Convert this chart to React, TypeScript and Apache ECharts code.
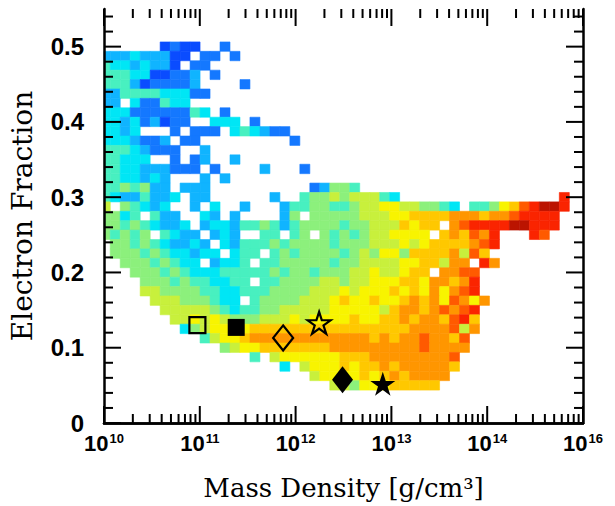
import React, { useEffect, useRef } from 'react';
import * as echarts from 'echarts';

// ---- axes ----
const rhoMin = 1e10;
const rhoMax = 1e15;
const xTickExponents = ['10', '11', '12', '13', '14', '16'];
const yMin = 0;
const yMax = 0.55;
const yTickValues = [0, 0.1, 0.2, 0.3, 0.4, 0.5];
const yTickLabels = ['0', '0.1', '0.2', '0.3', '0.4', '0.5'];
const xMinorMultipliers = [2, 3, 4, 5, 6, 7, 8, 9];
const xDecades = [10, 11, 12, 13, 14];
const yMinorValues = [0.02, 0.04, 0.06, 0.08, 0.12, 0.14, 0.16, 0.18, 0.22, 0.24, 0.26, 0.28, 0.32, 0.34, 0.36, 0.38, 0.42, 0.44, 0.46, 0.48, 0.52, 0.54];

// ---- 2D histogram bins (log10 density x electron fraction) ----
const logRhoFirstEdge = 9.961;
const logRhoBinWidth = 0.10417;
const yeTopBinCenter = 0.5;
const yeBinHeight = 0.0125;

// one string per Ye row (top = 0.5, step down 0.0125); one char per density bin
// '.' = empty, 0..9,a,b,c = colour level
const cellRows = [
  '......0100' + '..1.......' + '..........' + '..........' + '........',
  '222322200.' + '11.1......' + '..........' + '..........' + '........',
  '43323220.1' + '1.........' + '..........' + '..........' + '........',
  '4443300112' + '.1........' + '..........' + '..........' + '........',
  '4442011112' + '....1.....' + '..........' + '..........' + '........',
  '2244443331' + '1.........' + '..........' + '..........' + '........',
  '22.311433.' + '..........' + '..........' + '..........' + '........',
  '3331111114' + '3.1.......' + '..........' + '..........' + '........',
  '332312011.' + '.333.1....' + '..........' + '..........' + '........',
  '3323...1.1' + '11.343211.' + '..........' + '..........' + '........',
  '3332112.11' + '.........1' + '..........' + '..........' + '........',
  '44432111..' + '2.........' + '..........' + '..........' + '........',
  '44333..1.1' + '2..2......' + '..........' + '..........' + '........',
  '4433222111' + '.1....2...' + '1.........' + '..........' + '........',
  '4433232...' + '2.2.......' + '..........' + '..........' + '........',
  '4454522.22' + '2.........' + '.12554....' + '..........' + '........',
  '43224223.2' + '2......2..' + '4556566643' + '..........' + '......b.',
  '6.54323..2' + '.3..2...24' + '4554456677' + '665543.445' + '78abccb.',
  '5534.422..' + '32.2....25' + '.555556667' + '7888899989' + '9abbbb..',
  '554543223.' + '2332445424' + '5555455666' + '8788.9abbb' + 'bccbbb..',
  '54545.4322' + '.232..44.4' + '5.54545667' + '777.898a9b' + '...ba...',
  '.554543223' + '2.32444545' + '5554555666' + '76788889ab' + '........',
  '.555454332' + '33.344.454' + '5555456577' + '5888896a8.' + '........',
  '..55545433' + '.2334.4455' + '5554556666' + '7788699.b9' + '........',
  '...5554543' + '3344444545' + '5455566766' + '788.99aa..' + '........',
  '....555454' + '43344.4455' + '5566566777' + '8879989b..' + '........',
  '....665555' + '4433444555' + '5666767778' + '787979ab..' + '........',
  '.....66655' + '5433.45555' + '6667877877' + '89897a979.' + '........',
  '......6666' + '6543445566' + '6667777768' + '9989a9ab..' + '........',
  '.......667' + '6765556667' + '6777787788' + '98998ab8..' + '........',
  '........35' + '6777788888' + '8888888888' + '89999a69..' + '........',
  '..........' + '4677899999' + '9999999898' + '99a998a...' + '........',
  '..........' + '..56778888' + '8889999999' + '99a9999...' + '........',
  '..........' + '.....4.677' + '7777888999' + '99999a....' + '........',
  '..........' + '........3.' + '6777878898' + '999998....' + '........',
  '..........' + '..........' + '.677778789' + '89999.....' + '........',
  '..........' + '..........' + '...6657778' + '8888......' + '........',
];

// ---- markers ----
const markerRho = [9.44e10, 2.4e11, 7.41e11, 1.76e12, 3.09e12, 8.13e12];
const markerYe = [0.13, 0.127, 0.113, 0.133, 0.0575, 0.0522];
const markerShape = ['square', 'square', 'diamond', 'star', 'diamond', 'star'];
const markerFilled = [false, true, false, false, true, true];

const palette = [
  '#0a4cff', '#1478ff', '#10b4ff', '#00e6f5', '#48f0c0', '#8cf07c', '#c8f03c',
  '#f8f400', '#ffc800', '#ff9600', '#ff5a00', '#fa2400', '#bb1400',
];

const STAR = 'path://M50 0 L61.23 34.55 L97.55 34.55 L68.17 55.9 L79.39 90.45 L50 69.1 L20.61 90.45 L31.83 55.9 L2.45 34.55 L38.77 34.55 Z';

function buildCells() {
  const cells: number[][] = [];
  cellRows.forEach((row, r) => {
    const yc = yeTopBinCenter - r * yeBinHeight;
    for (let k = 0; k < row.length; k++) {
      const ch = row[k];
      if (ch === '.') continue;
      const v = parseInt(ch, 16);
      const lo = logRhoFirstEdge + k * logRhoBinWidth;
      cells.push([Math.pow(10, lo), Math.pow(10, lo + logRhoBinWidth), yc - yeBinHeight / 2, yc + yeBinHeight / 2, v]);
    }
  });
  return cells;
}

function buildTicks() {
  const t: number[][] = [];
  xDecades.concat([15]).forEach((d) => t.push([Math.pow(10, d), 0.2, 0]));
  xDecades.forEach((d) => xMinorMultipliers.forEach((m) => t.push([m * Math.pow(10, d), 0.2, 1])));
  yTickValues.forEach((v) => t.push([1e12, v, 2]));
  yMinorValues.forEach((v) => t.push([1e12, v, 3]));
  return t;
}

export default function App() {
  const ref = useRef<HTMLDivElement>(null);
  useEffect(() => {
    if (!ref.current) return;
    const chart = echarts.init(ref.current, undefined, { renderer: 'svg' });
    const numFont = 'Liberation Sans';
    const nameFont = 'DejaVu Serif';
    const frame = { show: true, lineStyle: { color: '#000', width: 2.5 } };

    const markerData = markerRho.map((rho, i) => {
      const shape = markerShape[i];
      const filled = markerFilled[i];
      let symbol = 'rect';
      let size: number[] = [16, 16];
      if (shape === 'diamond') { symbol = 'diamond'; size = filled ? [21, 27] : [20, 25]; }
      if (shape === 'star') { symbol = STAR; size = filled ? [25, 24] : [23, 22]; }
      if (shape === 'square' && filled) size = [17, 17];
      return {
        value: [rho, markerYe[i]],
        symbol,
        symbolSize: size,
        itemStyle: filled
          ? { color: '#000', borderColor: '#000', borderWidth: 0, opacity: 1 }
          : { color: 'rgba(0,0,0,0)', borderColor: '#000', borderWidth: 2.2, opacity: 1 },
      };
    });

    chart.setOption({
      animation: false,
      backgroundColor: '#fff',
      grid: { left: 103, right: 32, top: 9, bottom: 78, containLabel: false },
      visualMap: {
        show: false, type: 'continuous', min: 0, max: 12, dimension: 4, seriesIndex: 0,
        inRange: { color: palette },
      },
      xAxis: [
        {
          type: 'log', logBase: 10, min: rhoMin, max: rhoMax, position: 'bottom', z: 10,
          axisLine: frame, axisTick: { show: false }, splitLine: { show: false },
          axisLabel: {
            margin: 8,
            formatter: (v: number) => {
              const i = Math.round(Math.log10(v)) - 10;
              const e = xTickExponents[i];
              return e === undefined ? '' : '{b|10}{e|' + e + '}';
            },
            rich: {
              b: { fontFamily: numFont, fontWeight: 'bold', fontSize: 22, color: '#000', lineHeight: 24 },
              e: { fontFamily: numFont, fontWeight: 'bold', fontSize: 13, color: '#000', lineHeight: 13, verticalAlign: 'top', padding: [1, 0, 0, 1] },
            },
          },
          name: 'Mass Density [g/cm³]', nameLocation: 'middle', nameGap: 52,
          nameTextStyle: { fontFamily: nameFont, fontSize: 26, color: '#000' },
        },
        {
          type: 'log', logBase: 10, min: rhoMin, max: rhoMax, position: 'top', z: 10,
          axisLine: frame, axisTick: { show: false }, splitLine: { show: false }, axisLabel: { show: false },
        },
      ],
      yAxis: [
        {
          type: 'value', min: yMin, max: yMax, interval: 0.1, position: 'left', z: 10,
          axisLine: frame, axisTick: { show: false }, splitLine: { show: false },
          axisLabel: {
            margin: 20, fontFamily: numFont, fontWeight: 'bold', fontSize: 24, color: '#000',
            formatter: (v: number) => {
              const i = yTickValues.findIndex((t) => Math.abs(t - v) < 1e-6);
              return i >= 0 ? yTickLabels[i] : '';
            },
          },
          name: 'Electron Fraction', nameLocation: 'middle', nameGap: 68, nameRotate: 90,
          nameTextStyle: { fontFamily: nameFont, fontSize: 28, color: '#000' },
        },
        {
          type: 'value', min: yMin, max: yMax, interval: 0.1, position: 'right', z: 10,
          axisLine: frame, axisTick: { show: false }, splitLine: { show: false }, axisLabel: { show: false },
        },
      ],
      series: [
        {
          type: 'custom', name: 'histogram', z: 2,
          encode: { x: [0, 1], y: [2, 3] },
          data: buildCells(),
          renderItem: (params: any, api: any) => {
            const p0 = api.coord([api.value(0), api.value(3)]);
            const p1 = api.coord([api.value(1), api.value(2)]);
            const cs = params.coordSys;
            const rect = echarts.graphic.clipRectByRect(
              { x: p0[0], y: p0[1], width: p1[0] - p0[0], height: p1[1] - p0[1] },
              { x: cs.x, y: cs.y, width: cs.width, height: cs.height }
            );
            if (!rect) return null;
            const c = api.visual('color');
            return { type: 'rect', shape: rect, style: { fill: c, stroke: c, lineWidth: 0.6 } };
          },
        },
        {
          type: 'scatter', name: 'models', z: 4,
          itemStyle: { opacity: 1 },
          data: markerData,
        },
        {
          type: 'custom', name: 'ticks', z: 8, silent: true,
          encode: { x: 0, y: 1 },
          data: buildTicks(),
          renderItem: (params: any, api: any) => {
            const cs = params.coordSys;
            const kind = api.value(2);
            const st = { stroke: '#000', lineWidth: 2 };
            if (kind < 2) {
              const x = api.coord([api.value(0), 0.2])[0];
              const len = kind === 0 ? 17 : 9;
              const b = cs.y + cs.height;
              return {
                type: 'group',
                children: [
                  { type: 'line', shape: { x1: x, y1: b, x2: x, y2: b - len }, style: st },
                  { type: 'line', shape: { x1: x, y1: cs.y, x2: x, y2: cs.y + len }, style: st },
                ],
              };
            }
            const y = api.coord([1e12, api.value(1)])[1];
            const len = kind === 2 ? 17 : 9;
            const r = cs.x + cs.width;
            return {
              type: 'group',
              children: [
                { type: 'line', shape: { x1: cs.x, y1: y, x2: cs.x + len, y2: y }, style: st },
                { type: 'line', shape: { x1: r, y1: y, x2: r - len, y2: y }, style: st },
              ],
            };
          },
        },
      ],
    });
    return () => chart.dispose();
  }, []);
  return <div ref={ref} style={{ position: 'absolute', left: 0, top: 0, width: 615, height: 506 }} />;
}
